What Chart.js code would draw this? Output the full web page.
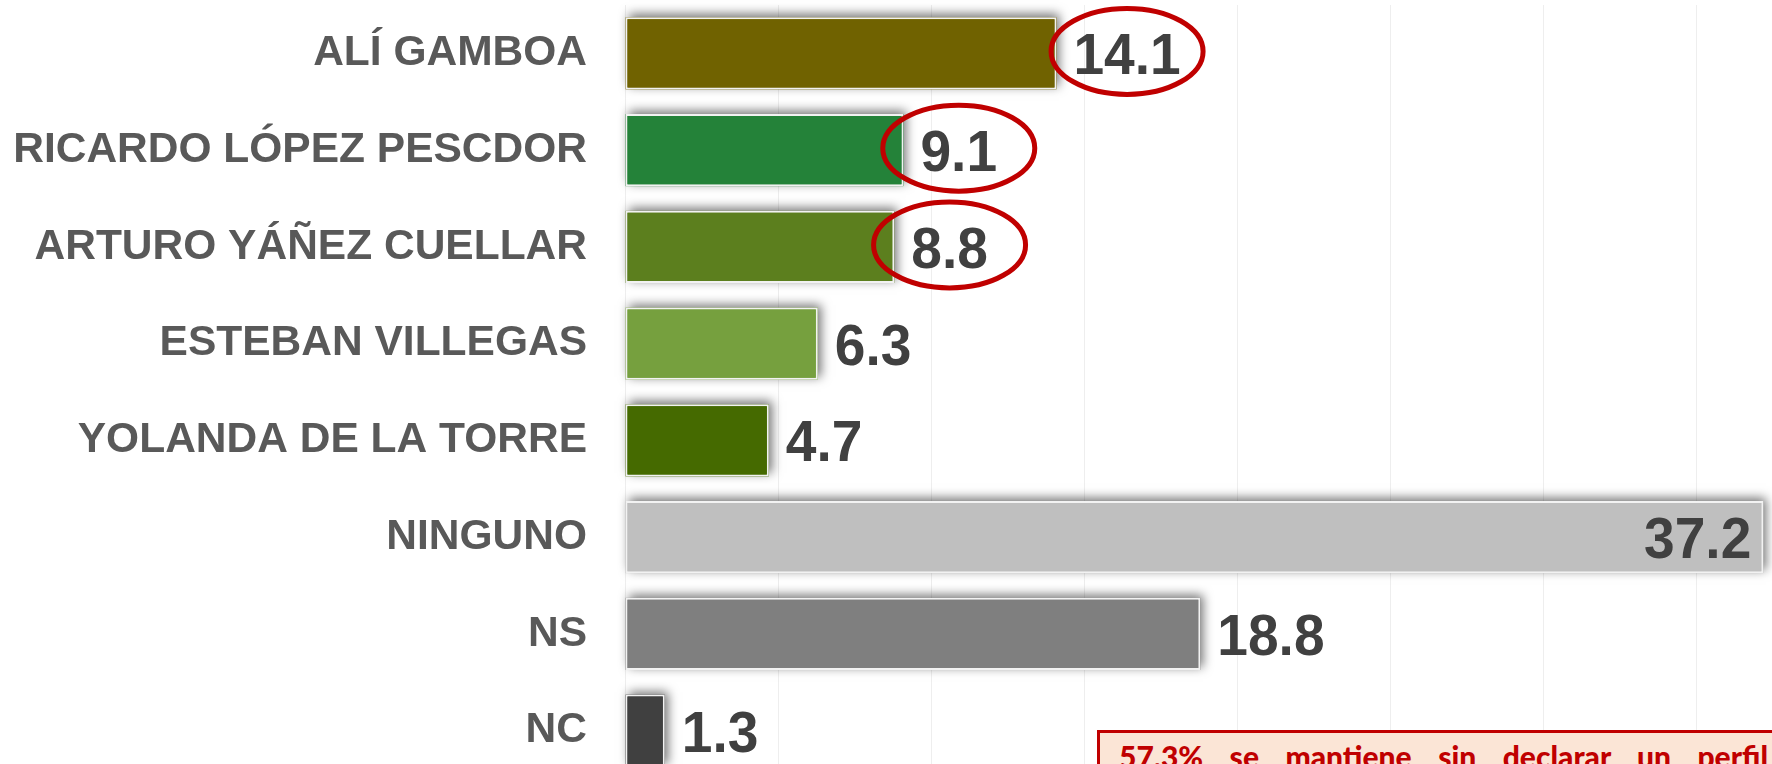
<!DOCTYPE html>
<html lang="es">
<head>
<meta charset="utf-8">
<title>Preferencia</title>
<script src="https://cdn.jsdelivr.net/npm/chart.js@4.4.1/dist/chart.umd.min.js"></script>
<style>
    html, body {
        margin: 0;
        padding: 0;
        background: #ffffff;
        width: 1772px;
        height: 764px;
        overflow: hidden;
    }
    #wrap {
        position: relative;
        width: 1849px;
        height: 779px;
    }
    #note {
        position: absolute;
        left: 1097px;
        top: 730px;
        width: 720px;
        box-sizing: border-box;
        border: 3px solid #C00000;
        background: #FBE5D6;
        color: #C00000;
        font-family: Lato, 'Open Sans', sans-serif;
        font-weight: 900;
        font-size: 30px;
        line-height: 32px;
        padding: 7px 46px 8px 19px;
        text-align: justify;
        text-align-last: justify;
    }
</style>
</head>
<body>
<div id="wrap">
    <canvas id="prefChart"></canvas>
    <div id="note">57.3% se mantiene sin declarar un perfil</div>
</div>
<script>
const categories = [
    'ALÍ GAMBOA',
    'RICARDO LÓPEZ PESCDOR',
    'ARTURO YÁÑEZ CUELLAR',
    'ESTEBAN VILLEGAS',
    'YOLANDA DE LA TORRE',
    'NINGUNO',
    'NS',
    'NC'
];
const values = [14.1, 9.1, 8.8, 6.3, 4.7, 37.2, 18.8, 1.3];
const barColors = ['#706200', '#248239', '#5C7F1E', '#76A03E', '#456A00', '#BFBFBF', '#7F7F7F', '#404040'];
const circled = ['ALÍ GAMBOA', 'RICARDO LÓPEZ PESCDOR', 'ARTURO YÁÑEZ CUELLAR'];
const xTicks = [0, 5, 10, 15, 20, 25, 30, 35, 40];

const VISIBLE_WIDTH = 1772;
const LABEL_FONT = "bold 58px 'Liberation Sans', Arial, sans-serif";
const LABEL_SQUEEZE = 0.95; // value labels are a bit narrower than plain Arial

// soft shadow behind each bar (drawn before the bars themselves)
const barShadow = {
    id: 'barShadow',
    beforeDatasetsDraw(chart) {
        const ctx = chart.ctx;
        const meta = chart.getDatasetMeta(0);
        ctx.save();
        ctx.shadowColor = 'rgba(0,0,0,0.55)';
        ctx.shadowBlur = 10;
        ctx.shadowOffsetX = 3;
        ctx.shadowOffsetY = -3;
        meta.data.forEach((bar, i) => {
            const { x, y, base, height } = bar.getProps(['x', 'y', 'base', 'height'], true);
            ctx.fillStyle = barColors[i];
            ctx.fillRect(base, y - height / 2, x - base, height);
        });
        ctx.restore();
    }
};

// value labels and the red ellipses
const valueLabels = {
    id: 'valueLabels',
    afterDatasetsDraw(chart) {
        const ctx = chart.ctx;
        const meta = chart.getDatasetMeta(0);
        ctx.save();
        ctx.font = LABEL_FONT;
        meta.data.forEach((bar, i) => {
            const { x, y } = bar.getProps(['x', 'y'], true);
            const text = values[i].toFixed(1);
            const w = ctx.measureText(text).width * LABEL_SQUEEZE;
            let left = x + 17;
            if (left + w > VISIBLE_WIDTH) {
                left = x - 12 - w;
            }
            ctx.save();
            ctx.translate(left, y + 21);
            ctx.scale(LABEL_SQUEEZE, 1);
            ctx.fillStyle = '#404040';
            ctx.textAlign = 'left';
            ctx.textBaseline = 'alphabetic';
            ctx.fillText(text, 0, 0);
            ctx.restore();

            if (circled.includes(categories[i])) {
                ctx.beginPath();
                ctx.ellipse(left + w / 2, y - 2, 76, 43, 0, 0, Math.PI * 2);
                ctx.lineWidth = 5;
                ctx.strokeStyle = '#C00000';
                ctx.stroke();
            }
        });
        ctx.restore();
    }
};

const ctx = document.getElementById('prefChart').getContext('2d');
new Chart(ctx, {
    type: 'bar',
    data: {
        labels: categories,
        datasets: [{
            data: values,
            backgroundColor: barColors,
            borderColor: '#F2F2F2',
            borderWidth: 2,
            borderSkipped: false,
            categoryPercentage: 1,
            barPercentage: 0.745
        }]
    },
    options: {
        indexAxis: 'y',
        responsive: true,
        maintainAspectRatio: false,
        animation: false,
        layout: { padding: { top: 5, right: 0, bottom: 0, left: 0 } },
        plugins: {
            legend: { display: false },
            tooltip: { enabled: false }
        },
        scales: {
            x: {
                min: xTicks[0],
                max: xTicks[xTicks.length - 1],
                afterBuildTicks: (scale) => {
                    scale.ticks = xTicks.map(v => ({ value: v }));
                },
                afterFit: (scale) => {
                    scale.height = 0;
                    scale.paddingLeft = 0;
                    scale.paddingRight = 0;
                },
                ticks: { display: false },
                grid: { color: '#EEEEEE', lineWidth: 1, drawTicks: false },
                border: { display: false }
            },
            y: {
                afterFit: (scale) => {
                    scale.width = 625;
                    scale.paddingTop = 0;
                    scale.paddingBottom = 0;
                },
                ticks: {
                    color: '#595959',
                    padding: 38,
                    font: { family: "'Liberation Sans', Arial, sans-serif", size: 42.5, weight: 'bold' }
                },
                grid: { display: false, drawTicks: false },
                border: { display: false }
            }
        }
    },
    plugins: [barShadow, valueLabels]
});
</script>
</body>
</html>
